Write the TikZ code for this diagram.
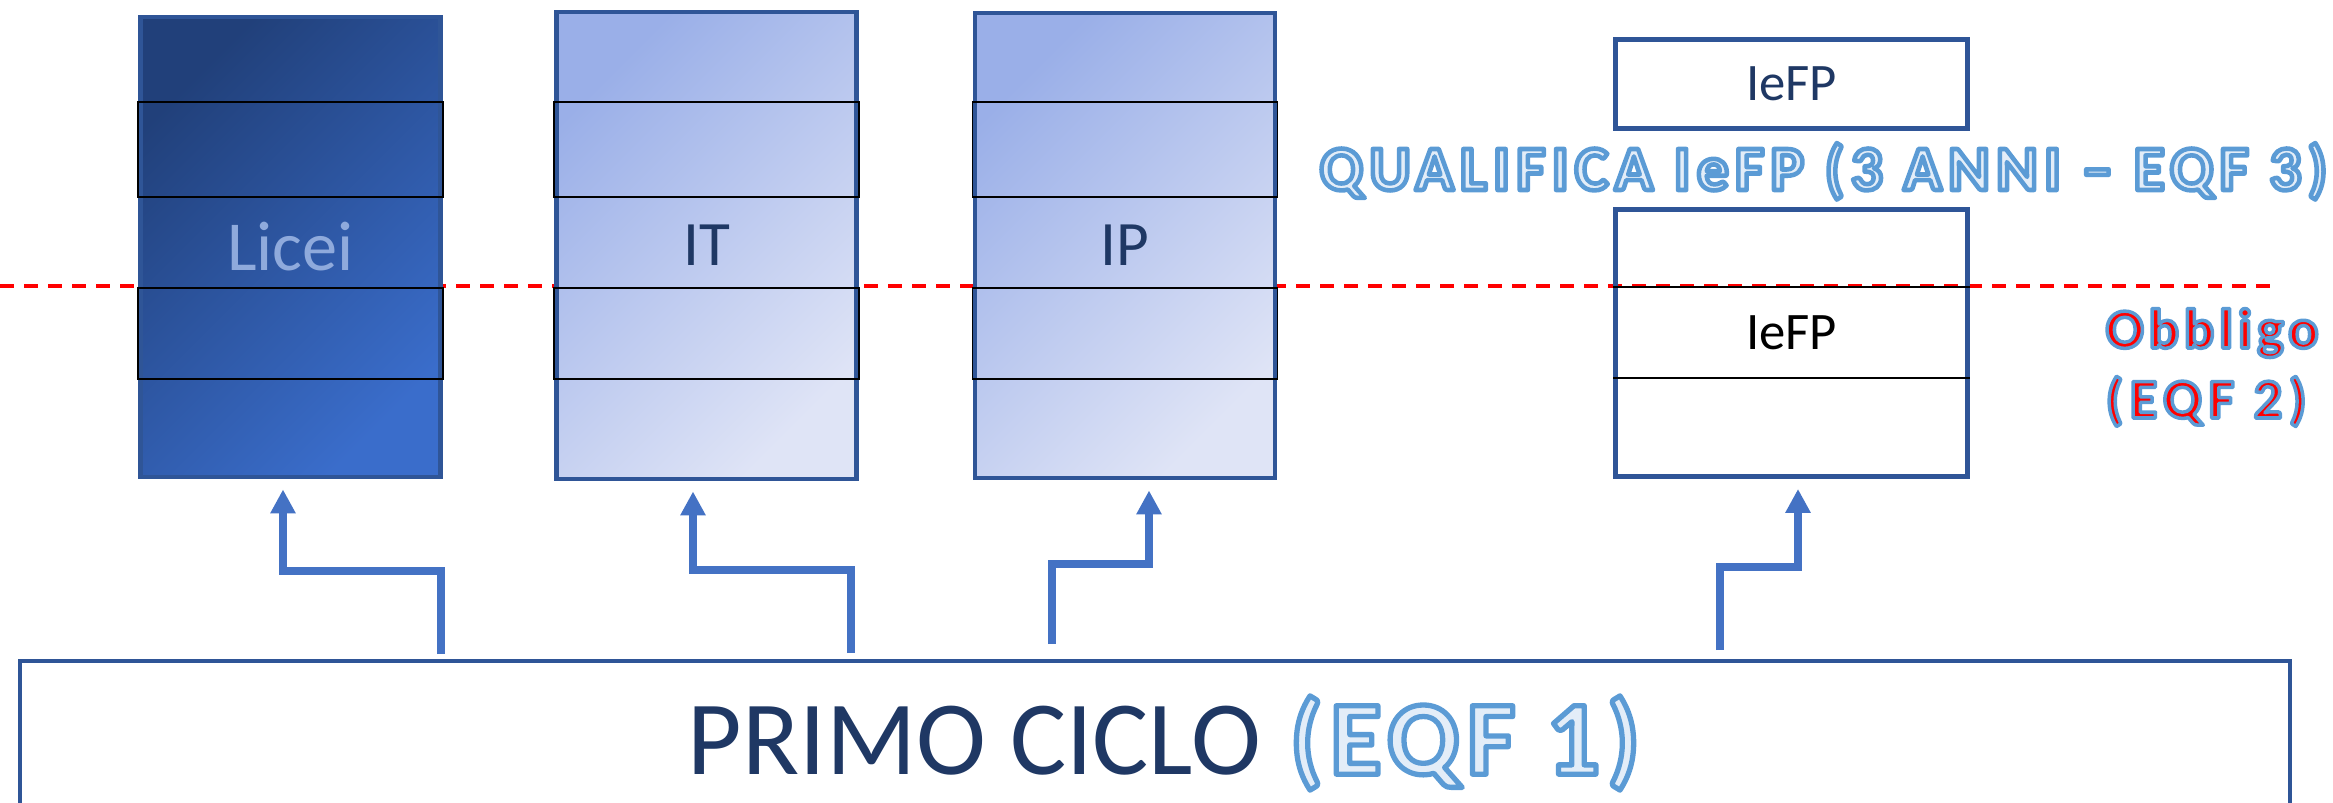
\documentclass[tikz,border=0pt]{standalone}
\usepackage{fontspec}
\setmainfont{Carlito}
\usetikzlibrary{arrows.meta}

\definecolor{navy}{HTML}{1F3864}
\definecolor{frame}{HTML}{2F5597}
\definecolor{arrowblue}{HTML}{4472C4}
\definecolor{liceiTop}{HTML}{21407A}
\definecolor{liceiBot}{HTML}{3A6DCB}
\definecolor{lightTop}{HTML}{9AAFE8}
\definecolor{lightBot}{HTML}{DFE4F6}
\definecolor{liceiText}{HTML}{8FAADC}
\definecolor{paleblue}{HTML}{E3EDF8}

%outlined letters (stroke colour 5B9BD5)
\newcommand{\hollow}[1]{\special{pdf:literal direct 0.357 0.608 0.835 RG 1 j #1 w 2 Tr}}
\newcommand{\solid}{\special{pdf:literal direct 0 Tr}}

\begin{document}
\begin{tikzpicture}[
  column/.style={draw=frame, line width=1.4pt, minimum width=3cm, inner sep=0pt},
  strip/.style={draw=black, line width=0.5pt},
  flow/.style={draw=arrowblue, line width=2.1pt, -{Triangle[length=2.4mm,width=2.4mm]}, shorten >=1mm}
  ]
\useasboundingbox (0,0) rectangle (23.33,-8.03);

%draw obbligo line
\draw[red, line width=1pt, dash pattern=on 1.4mm off 1mm] (0,-2.86) -- (22.78,-2.86);

%draw school columns
\node[column, minimum height=4.60cm, top color=liceiTop, bottom color=liceiBot, shading angle=45, text=liceiText, font=\fontsize{20}{24}\selectfont] (licei) at (2.905,-2.47) {Licei};
\node[column, minimum height=4.67cm, top color=lightTop, bottom color=lightBot, shading angle=45, text=navy, font=\fontsize{18}{22}\selectfont] (it) at (7.065,-2.455) {IT};
\node[column, minimum height=4.65cm, top color=lightTop, bottom color=lightBot, shading angle=45, text=navy, font=\fontsize{18}{22}\selectfont] (ip) at (11.25,-2.455) {IP};

%draw year strips
\foreach \c in {licei,it,ip}
	{
	\draw[strip] (\c.west |- 0,-1.02) rectangle (\c.east |- 0,-1.97);
	\draw[strip] (\c.west |- 0,-2.88) rectangle (\c.east |- 0,-3.79);
	}

%draw IeFP boxes
\node[draw=frame, line width=1.4pt, minimum width=3.52cm, minimum height=0.89cm, text=navy, font=\fontsize{15}{18}\selectfont] (iefpTop) at (17.915,-0.84) {IeFP};
\node[draw=frame, line width=1.4pt, minimum width=3.52cm, minimum height=2.67cm] (iefpBox) at (17.915,-3.43) {};
\draw[strip] (iefpBox.west |- 0,-2.87) -- (iefpBox.east |- 0,-2.87);
\draw[strip] (iefpBox.west |- 0,-3.78) -- (iefpBox.east |- 0,-3.78);
\node[font=\fontsize{15}{18}\selectfont] (iefpLab) at (17.915,-3.33) {IeFP};

%label qualifica and obbligo
\node[anchor=base west, inner sep=0pt, text=paleblue, font=\bfseries\fontsize{18}{22}\selectfont\addfontfeature{LetterSpace=10}] (qual) at (13.19,-1.90) {\hollow{1.3}QUALIFICA IeFP (3 ANNI – EQF 3)\solid};
\node[anchor=base west, inner sep=0pt, text=red, font=\bfseries\fontsize{16}{19}\selectfont\addfontfeature{LetterSpace=9}] (obb) at (21.05,-3.48) {\hollow{1.0}Obbligo\solid};
\node[anchor=base west, inner sep=0pt, text=red, font=\bfseries\fontsize{16}{19}\selectfont\addfontfeature{LetterSpace=12}] (eqf2) at (21.05,-4.18) {\hollow{1.0}(EQF 2)\solid};

%draw primo ciclo
\node[draw=frame, line width=1.3pt, minimum width=22.7cm, minimum height=1.64cm] (primo) at (11.55,-7.43) {};
\node[text=navy, font=\fontsize{30}{36}\selectfont] (primoLab) at ([xshift=0.9mm]primo.center) {PRIMO CICLO\hspace{1.5pt} {\bfseries\addfontfeature{LetterSpace=7}\color{paleblue}\hollow{1.5}(EQF 1)\solid}};

%draw arrows
\coordinate (s1) at (4.41,-6.54);
\coordinate (s2) at (8.51,-6.53);
\coordinate (s3) at (10.52,-6.44);
\coordinate (s4) at (17.20,-6.50);
\draw[flow] (s1) -- ++(0,0.83) -| ([xshift=-0.75mm]licei.south);
\draw[flow] (s2) -- ++(0,0.83) -| ([xshift=-1.35mm]it.south);
\draw[flow] (s3) -- ++(0,0.80) -| ([xshift=2.4mm]ip.south);
\draw[flow] (s4) -- ++(0,0.83) -| ([xshift=0.65mm]iefpBox.south);

\end{tikzpicture}
\end{document}
